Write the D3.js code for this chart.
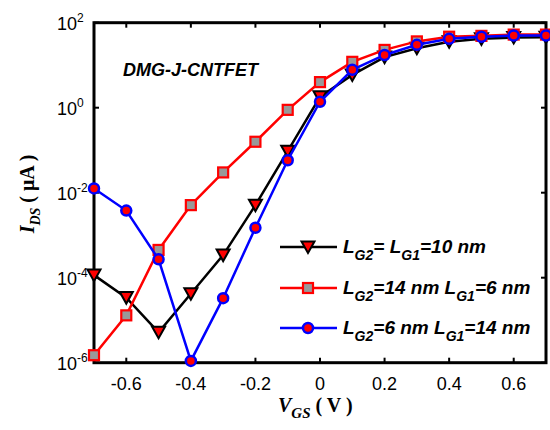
<!DOCTYPE html>
<html><head><meta charset="utf-8">
<script src="https://cdn.jsdelivr.net/npm/d3@7/dist/d3.min.js"></script>
<style>body{margin:0;background:#fff}svg{display:block}</style>
</head><body>
<svg id="c" width="550" height="430"></svg>
<script>
const vgs = [-0.7,-0.6,-0.5,-0.4,-0.3,-0.2,-0.1,0,0.1,0.2,0.3,0.4,0.5,0.6,0.7];
const idsEqual = [1.15e-4,3.4e-5,5.2e-6,4.2e-5,3.4e-4,5.1e-3,9.5e-2,1.8,5.9,15.5,25,35.5,41.7,44.7,45.7];
const ids14_6 = [1.5e-6,1.3e-5,4.5e-4,5.1e-3,3.0e-2,0.158,0.89,4.0,12,22.9,36.3,46.8,49,52.5,52.5];
const ids6_14 = [1.26e-2,3.8e-3,2.7e-4,1.1e-6,3.3e-5,1.5e-3,5.8e-2,1.38,7.8,17.4,30.2,41.7,46.8,50,50];
const xTicks = [-0.6,-0.4,-0.2,0,0.2,0.4,0.6];
const xTickLabels = ["-0.6","-0.4","-0.2","0","0.2","0.4","0.6"];
const yTicks = [1e2,1e0,1e-2,1e-4,1e-6];
const yTickExps = ["2","0","-2","-4","-6"];

const svg = d3.select("#c");
const x = d3.scaleLinear().domain([-0.7,0.7]).range([94,546]);
const y = d3.scaleLog().domain([1e-6,1e2]).range([362.7,22.7]);

const g = svg.append("g");
xTicks.forEach(t=>{
  g.append("line").attr("x1",x(t)).attr("x2",x(t)).attr("y1",y(1e2)).attr("y2",y(1e2)+5).attr("stroke","#000").attr("stroke-width",2);
  g.append("line").attr("x1",x(t)).attr("x2",x(t)).attr("y1",y(1e-6)).attr("y2",y(1e-6)-5).attr("stroke","#000").attr("stroke-width",2);
});
yTicks.forEach(t=>{
  g.append("line").attr("x1",x(-0.7)).attr("x2",x(-0.7)+5).attr("y1",y(t)).attr("y2",y(t)).attr("stroke","#000").attr("stroke-width",2);
  g.append("line").attr("x1",x(0.7)).attr("x2",x(0.7)-5).attr("y1",y(t)).attr("y2",y(t)).attr("stroke","#000").attr("stroke-width",2);
});
g.append("rect").attr("x",x(-0.7)).attr("y",y(1e2)).attr("width",x(0.7)-x(-0.7)).attr("height",y(1e-6)-y(1e2))
 .attr("fill","none").attr("stroke","#000").attr("stroke-width",3);

xTicks.forEach((t,i)=>{
  svg.append("text").attr("x",x(t)).attr("y",y(1e-6)+27).attr("text-anchor","middle")
    .attr("font-family","Arial, Liberation Sans, sans-serif").attr("font-size",18).attr("fill","#000").text(xTickLabels[i]);
});
yTicks.forEach((t,i)=>{
  const tx = svg.append("text").attr("x",57).attr("y",y(t)+7)
    .attr("font-family","Arial, Liberation Sans, sans-serif").attr("font-size",18).attr("fill","#000");
  tx.append("tspan").text("10");
  tx.append("tspan").attr("dy",-8).attr("font-size",12).text(yTickExps[i]);
});

svg.append("text").attr("x",123).attr("y",76).attr("font-family","Arial, Liberation Sans, sans-serif")
  .attr("font-size",18).attr("font-weight","bold").attr("font-style","italic").text("DMG-J-CNTFET");

const xt = svg.append("text").attr("x",278).attr("y",412).attr("font-family","Times New Roman, Liberation Serif, serif")
  .attr("font-size",20).attr("font-weight","bold");
xt.append("tspan").attr("font-style","italic").text("V");
xt.append("tspan").attr("font-style","italic").attr("font-size",15).attr("dy",6).text("GS");
xt.append("tspan").attr("dy",-6).text(" ( V )");

const yt = svg.append("text").attr("transform","translate(34,194) rotate(-90)").attr("text-anchor","middle")
  .attr("font-family","Times New Roman, Liberation Serif, serif").attr("font-size",20).attr("font-weight","bold");
yt.append("tspan").attr("font-style","italic").text("I");
yt.append("tspan").attr("font-style","italic").attr("font-size",14).attr("dy",6).text("DS");
yt.append("tspan").attr("dy",-6).text(" ( μA )");

const tri = "M-6.5,-5.5L6.5,-5.5L0,6Z";
const series = [
  {vals: idsEqual, stroke:"#000", mk:"tri"},
  {vals: ids14_6, stroke:"#ff0000", mk:"sq"},
  {vals: ids6_14, stroke:"#0000ff", mk:"circ"}
];
const line = d3.line().x(d=>x(d[0])).y(d=>y(d[1]));
function marker(sel, mk){
  if(mk==="tri") sel.append("path").attr("d",tri).attr("fill","#ff0000").attr("stroke","#000").attr("stroke-width",2);
  else if(mk==="sq") sel.append("rect").attr("x",-5).attr("y",-5).attr("width",10).attr("height",10).attr("fill","#999").attr("stroke","#ff0000").attr("stroke-width",2.2);
  else sel.append("circle").attr("r",5).attr("fill","#ff0000").attr("stroke","#0000ff").attr("stroke-width",2.5);
}
series.forEach(s=>{
  const pts = vgs.map((v,i)=>[v,s.vals[i]]);
  svg.append("path").attr("d",line(pts)).attr("fill","none").attr("stroke",s.stroke).attr("stroke-width",2.5);
  pts.forEach(p=>{
    const m = svg.append("g").attr("transform",`translate(${x(p[0])},${y(p[1])})`);
    marker(m, s.mk);
  });
});

const legendRows = [
  {s:series[0], parts:[["L",""],["G2","sub"],["= L",""],["G1","sub"],["=10 nm",""]]},
  {s:series[1], parts:[["L",""],["G2","sub"],["=14 nm L",""],["G1","sub"],["=6 nm",""]]},
  {s:series[2], parts:[["L",""],["G2","sub"],["=6 nm L",""],["G1","sub"],["=14 nm",""]]}
];
const legY = [247,288,328];
legendRows.forEach((r,i)=>{
  const ly = legY[i];
  svg.append("line").attr("x1",280).attr("x2",337).attr("y1",ly).attr("y2",ly).attr("stroke",r.s.stroke).attr("stroke-width",2.5);
  marker(svg.append("g").attr("transform",`translate(308,${ly})`), r.s.mk);
  const t = svg.append("text").attr("x",343).attr("y",ly+6).attr("font-family","Arial, Liberation Sans, sans-serif")
    .attr("font-size",19).attr("font-weight","bold").attr("font-style","italic");
  let shifted = false;
  r.parts.forEach(p=>{
    const ts = t.append("tspan").text(p[0]);
    if(p[1]==="sub"){ ts.attr("font-size",14).attr("dy",7); shifted=true; }
    else if(shifted){ ts.attr("dy",-7); shifted=false; }
  });
});
</script>
</body></html>
